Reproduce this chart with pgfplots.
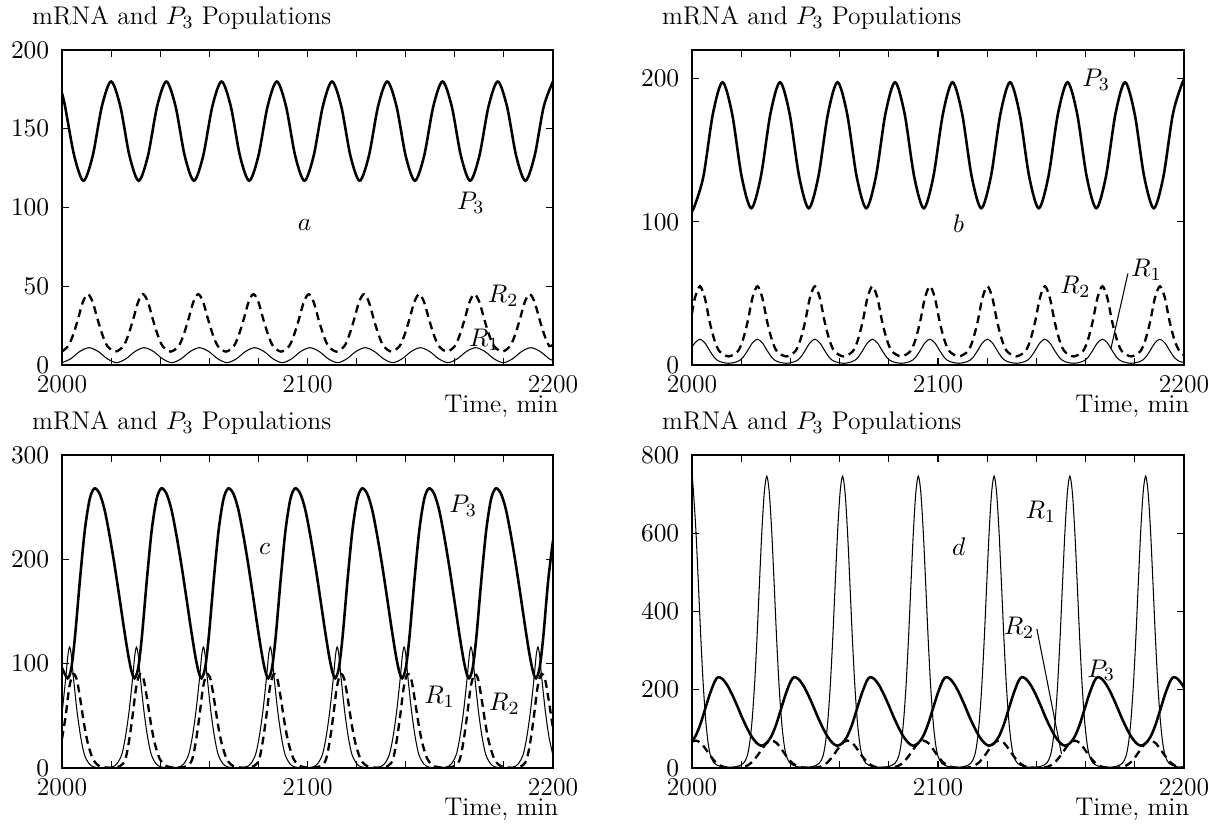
\documentclass[border=0pt]{standalone}
\usepackage{pgfplots}
\pgfplotsset{compat=1.18}
\begin{document}
\begin{tikzpicture}
\pgfplotsset{
  panel/.style={
    scale only axis, anchor=south west,
    font=\fontsize{11}{13}\selectfont,
    xmin=2000, xmax=2200,
    xtick={2000,2020,...,2200},
    xticklabels={2000,,,,,2100,,,,,2200},
    xtick pos=both, ytick pos=both,
    xticklabel pos=lower, yticklabel pos=left,
    tick align=inside, major tick length=3pt,
    every tick/.style={black, line width=0.5pt},
    axis line style={black, line width=0.5pt},
    xticklabel style={inner sep=0.5pt, yshift=-4pt},
    yticklabel style={inner sep=0.5pt, xshift=-4.8pt},
    title={mRNA and $P_3$ Populations},
    title style={at={(0,1)}, anchor=base west, xshift=-13pt, yshift=4.8pt, inner sep=0pt},
    xlabel={Time, min},
    xlabel style={at={(1,0)}, anchor=base east, xshift=2.5pt, yshift=-20.3pt, inner sep=0pt},
  },
  pthree/.style={black, line width=1.1pt, smooth},
  rone/.style={black, line width=0.45pt, smooth},
  rtwo/.style={black, line width=1pt, smooth, dash pattern=on 3.4pt off 2.2pt},
}
\tikzset{lbl/.style={font=\fontsize{11}{13}\selectfont, inner sep=0pt}}

% ---------- a ----------
\begin{axis}[panel, at={(26.66pt,-156.95pt)}, width=211.13pt, height=135.45pt,
  ymin=0, ymax=200, ytick={0,50,...,200}]
\addplot[pthree] coordinates {
(2000,172.6) (2001.25,164.25) (2005,132.75) (2008.75,117) (2012.5,132.75) (2016.25,164.25)
(2020,180) (2023.75,164.25) (2027.5,132.75) (2031.25,117) (2035,132.75) (2038.75,164.25)
(2042.5,180) (2046.25,164.25) (2050,132.75) (2053.75,117) (2057.5,132.75) (2061.25,164.25)
(2065,180) (2068.75,164.25) (2072.5,132.75) (2076.25,117) (2080,132.75) (2083.75,164.25)
(2087.5,180) (2091.25,164.25) (2095,132.75) (2098.75,117) (2102.5,132.75) (2106.25,164.25)
(2110,180) (2113.75,164.25) (2117.5,132.75) (2121.25,117) (2125,132.75) (2128.75,164.25)
(2132.5,180) (2136.25,164.25) (2140,132.75) (2143.75,117) (2147.5,132.75) (2151.25,164.25)
(2155,180) (2158.75,164.25) (2162.5,132.75) (2166.25,117) (2170,132.75) (2173.75,164.25)
(2177.5,180) (2181.25,164.25) (2185,132.75) (2188.75,117) (2192.5,132.75) (2196.25,164.25)
(2200,180)
};
\addplot[rone] coordinates {
(2000,1.5) (2003.5,3.9) (2007.25,8.6) (2011,11) (2014.75,8.6) (2018.5,3.9)
(2022.25,1.5) (2026,3.9) (2029.75,8.6) (2033.5,11) (2037.25,8.6) (2041,3.9)
(2044.75,1.5) (2048.5,3.9) (2052.25,8.6) (2056,11) (2059.75,8.6) (2063.5,3.9)
(2067.25,1.5) (2071,3.9) (2074.75,8.6) (2078.5,11) (2082.25,8.6) (2086,3.9)
(2089.75,1.5) (2093.5,3.9) (2097.25,8.6) (2101,11) (2104.75,8.6) (2108.5,3.9)
(2112.25,1.5) (2116,3.9) (2119.75,8.6) (2123.5,11) (2127.25,8.6) (2131,3.9)
(2134.75,1.5) (2138.5,3.9) (2142.25,8.6) (2146,11) (2149.75,8.6) (2153.5,3.9)
(2157.25,1.5) (2161,3.9) (2164.75,8.6) (2168.5,11) (2172.25,8.6) (2176,3.9)
(2179.75,1.5) (2183.5,3.9) (2187.25,8.6) (2191,11) (2194.75,8.6) (2198.5,3.9)
(2200,3.0)
};
\addplot[rtwo] coordinates {
(2000,8.6) (2002.5,12) (2004.5,19) (2006.5,29) (2008.5,40)
(2010.5,45) (2012.5,40) (2014.5,29) (2016.5,19) (2018.5,12) (2021.75,8.5)
(2025,12) (2027,19) (2029,29) (2031,40)
(2033,45) (2035,40) (2037,29) (2039,19) (2041,12) (2044.25,8.5)
(2047.5,12) (2049.5,19) (2051.5,29) (2053.5,40)
(2055.5,45) (2057.5,40) (2059.5,29) (2061.5,19) (2063.5,12) (2066.75,8.5)
(2070,12) (2072,19) (2074,29) (2076,40)
(2078,45) (2080,40) (2082,29) (2084,19) (2086,12) (2089.25,8.5)
(2092.5,12) (2094.5,19) (2096.5,29) (2098.5,40)
(2100.5,45) (2102.5,40) (2104.5,29) (2106.5,19) (2108.5,12) (2111.75,8.5)
(2115,12) (2117,19) (2119,29) (2121,40)
(2123,45) (2125,40) (2127,29) (2129,19) (2131,12) (2134.25,8.5)
(2137.5,12) (2139.5,19) (2141.5,29) (2143.5,40)
(2145.5,45) (2147.5,40) (2149.5,29) (2151.5,19) (2153.5,12) (2156.75,8.5)
(2160,12) (2162,19) (2164,29) (2166,40)
(2168,45) (2170,40) (2172,29) (2174,19) (2176,12) (2179.25,8.5)
(2182.5,12) (2184.5,19) (2186.5,29) (2188.5,40)
(2190.5,45) (2192.5,40) (2194.5,29) (2196.5,19) (2198.5,12) (2200,13)
};
\node[lbl] at (axis cs:2166.5,103) {$P_3$};
\node[lbl] at (axis cs:2098.8,89) {$a$};
\node[lbl] at (axis cs:2179.7,44) {$R_2$};
\node[lbl] at (axis cs:2172,16) {$R_1$};
\end{axis}

% ---------- b ----------
\begin{axis}[panel, at={(297.56pt,-156.95pt)}, width=211.56pt, height=135.45pt,
  ymin=0, ymax=220, ytick={0,100,200}]
\addplot[pthree] coordinates {
(2000,110) (2000.71,109.5) (2004.61,131.5) (2008.50,175.5)
(2012.40,197.5) (2016.30,175.5) (2020.19,131.5) (2024.09,109.5) (2027.98,131.5) (2031.88,175.5)
(2035.78,197.5) (2039.67,175.5) (2043.57,131.5) (2047.46,109.5) (2051.36,131.5) (2055.26,175.5)
(2059.15,197.5) (2063.05,175.5) (2066.94,131.5) (2070.84,109.5) (2074.74,131.5) (2078.63,175.5)
(2082.53,197.5) (2086.42,175.5) (2090.32,131.5) (2094.22,109.5) (2098.11,131.5) (2102.01,175.5)
(2105.90,197.5) (2109.80,175.5) (2113.70,131.5) (2117.59,109.5) (2121.49,131.5) (2125.38,175.5)
(2129.28,197.5) (2133.18,175.5) (2137.07,131.5) (2140.97,109.5) (2144.86,131.5) (2148.76,175.5)
(2152.66,197.5) (2156.55,175.5) (2160.45,131.5) (2164.34,109.5) (2168.24,131.5) (2172.14,175.5)
(2176.03,197.5) (2179.93,175.5) (2183.82,131.5) (2187.72,109.5) (2191.62,131.5) (2195.51,175.5)
(2199.41,197.5) (2200,197)
};
\addplot[rone] coordinates {
(2000,12.5) (2001.2,15.5) (2003.2,18) (2005.2,15.5) (2007.2,10) (2009.2,5) (2011.2,2.5) (2014.89,1.2)
(2018.58,2.5) (2020.58,5) (2022.58,10) (2024.58,15.5) (2026.58,18) (2028.58,15.5) (2030.58,10) (2032.58,5) (2034.58,2.5) (2038.27,1.2)
(2041.95,2.5) (2043.95,5) (2045.95,10) (2047.95,15.5) (2049.95,18) (2051.95,15.5) (2053.95,10) (2055.95,5) (2057.95,2.5) (2061.64,1.2)
(2065.33,2.5) (2067.33,5) (2069.33,10) (2071.33,15.5) (2073.33,18) (2075.33,15.5) (2077.33,10) (2079.33,5) (2081.33,2.5) (2085.02,1.2)
(2088.70,2.5) (2090.70,5) (2092.70,10) (2094.70,15.5) (2096.70,18) (2098.70,15.5) (2100.70,10) (2102.70,5) (2104.70,2.5) (2108.39,1.2)
(2112.08,2.5) (2114.08,5) (2116.08,10) (2118.08,15.5) (2120.08,18) (2122.08,15.5) (2124.08,10) (2126.08,5) (2128.08,2.5) (2131.77,1.2)
(2135.45,2.5) (2137.45,5) (2139.45,10) (2141.45,15.5) (2143.45,18) (2145.45,15.5) (2147.45,10) (2149.45,5) (2151.45,2.5) (2155.14,1.2)
(2158.83,2.5) (2160.83,5) (2162.83,10) (2164.83,15.5) (2166.83,18) (2168.83,15.5) (2170.83,10) (2172.83,5) (2174.83,2.5) (2178.52,1.2)
(2182.20,2.5) (2184.20,5) (2186.20,10) (2188.20,15.5) (2190.20,18) (2192.20,15.5) (2194.20,10) (2196.20,5) (2198.20,2.5) (2200,1.8)
};
\addplot[rtwo] coordinates {
(2000,36) (2001.2,47) (2003.2,55) (2005.2,47) (2007.2,30) (2009.2,17) (2011.2,9.5) (2014.89,6)
(2018.58,9.5) (2020.58,17) (2022.58,30) (2024.58,47) (2026.58,55) (2028.58,47) (2030.58,30) (2032.58,17) (2034.58,9.5) (2038.27,6)
(2041.95,9.5) (2043.95,17) (2045.95,30) (2047.95,47) (2049.95,55) (2051.95,47) (2053.95,30) (2055.95,17) (2057.95,9.5) (2061.64,6)
(2065.33,9.5) (2067.33,17) (2069.33,30) (2071.33,47) (2073.33,55) (2075.33,47) (2077.33,30) (2079.33,17) (2081.33,9.5) (2085.02,6)
(2088.70,9.5) (2090.70,17) (2092.70,30) (2094.70,47) (2096.70,55) (2098.70,47) (2100.70,30) (2102.70,17) (2104.70,9.5) (2108.39,6)
(2112.08,9.5) (2114.08,17) (2116.08,30) (2118.08,47) (2120.08,55) (2122.08,47) (2124.08,30) (2126.08,17) (2128.08,9.5) (2131.77,6)
(2135.45,9.5) (2137.45,17) (2139.45,30) (2141.45,47) (2143.45,55) (2145.45,47) (2147.45,30) (2149.45,17) (2151.45,9.5) (2155.14,6)
(2158.83,9.5) (2160.83,17) (2162.83,30) (2164.83,47) (2166.83,55) (2168.83,47) (2170.83,30) (2172.83,17) (2174.83,9.5) (2178.52,6)
(2182.20,9.5) (2184.20,17) (2186.20,30) (2188.20,47) (2190.20,55) (2192.20,47) (2194.20,30) (2196.20,17) (2198.20,9.5) (2200,7)
};
\node[lbl] at (axis cs:2164.3,199) {$P_3$};
\node[lbl] at (axis cs:2108.4,98.5) {$b$};
\node[lbl] at (axis cs:2155.8,54.5) {$R_2$};
\node[lbl] at (axis cs:2184.7,66.7) {$R_1$};
\draw[line width=0.45pt] (axis cs:2177.2,64) -- (axis cs:2170.3,11.6);
\end{axis}

% ---------- c ----------
\begin{axis}[panel, at={(26.66pt,-330.24pt)}, width=211.13pt, height=134.59pt,
  ymin=0, ymax=300, ytick={0,100,200,300}]
\addplot[pthree] coordinates {
(2000,96)
(2002.3,86) (2003.8,96) (2005.3,126) (2007.3,180) (2009.3,228) (2011.3,258) (2013.2,268) (2015.3,263) (2017.3,248) (2019.3,224) (2021.3,196) (2023.3,165) (2025.3,133) (2027.0,108) (2028.3,93)
(2029.55,86) (2031.05,96) (2032.55,126) (2034.55,180) (2036.55,228) (2038.55,258) (2040.45,268) (2042.55,263) (2044.55,248) (2046.55,224) (2048.55,196) (2050.55,165) (2052.55,133) (2054.25,108) (2055.55,93)
(2056.8,86) (2058.3,96) (2059.8,126) (2061.8,180) (2063.8,228) (2065.8,258) (2067.7,268) (2069.8,263) (2071.8,248) (2073.8,224) (2075.8,196) (2077.8,165) (2079.8,133) (2081.5,108) (2082.8,93)
(2084.05,86) (2085.55,96) (2087.05,126) (2089.05,180) (2091.05,228) (2093.05,258) (2094.95,268) (2097.05,263) (2099.05,248) (2101.05,224) (2103.05,196) (2105.05,165) (2107.05,133) (2108.75,108) (2110.05,93)
(2111.3,86) (2112.8,96) (2114.3,126) (2116.3,180) (2118.3,228) (2120.3,258) (2122.2,268) (2124.3,263) (2126.3,248) (2128.3,224) (2130.3,196) (2132.3,165) (2134.3,133) (2136.0,108) (2137.3,93)
(2138.55,86) (2140.05,96) (2141.55,126) (2143.55,180) (2145.55,228) (2147.55,258) (2149.45,268) (2151.55,263) (2153.55,248) (2155.55,224) (2157.55,196) (2159.55,165) (2161.55,133) (2163.25,108) (2164.55,93)
(2165.8,86) (2167.3,96) (2168.8,126) (2170.8,180) (2172.8,228) (2174.8,258) (2176.7,268) (2178.8,263) (2180.8,248) (2182.8,224) (2184.8,196) (2186.8,165) (2188.8,133) (2190.5,108) (2191.8,93)
(2193.05,86) (2194.55,96) (2196.05,126) (2198.05,180) (2200,218)
};
\addplot[rone] coordinates {
(2000,52) (2001.6,88) (2002.4,108) (2003.1,116) (2003.8,108) (2004.6,88) (2006.1,55) (2007.6,30) (2009.1,13) (2011.1,4) (2013.1,1) (2016.7,0.4)
(2020.35,1) (2022.35,4) (2024.35,13) (2025.85,30) (2027.35,55) (2028.85,88) (2029.65,108) (2030.35,116) (2031.05,108) (2031.85,88) (2033.35,55) (2034.85,30) (2036.35,13) (2038.35,4) (2040.35,1) (2043.95,0.4)
(2047.6,1) (2049.6,4) (2051.6,13) (2053.1,30) (2054.6,55) (2056.1,88) (2056.9,108) (2057.6,116) (2058.3,108) (2059.1,88) (2060.6,55) (2062.1,30) (2063.6,13) (2065.6,4) (2067.6,1) (2071.2,0.4)
(2074.85,1) (2076.85,4) (2078.85,13) (2080.35,30) (2081.85,55) (2083.35,88) (2084.15,108) (2084.85,116) (2085.55,108) (2086.35,88) (2087.85,55) (2089.35,30) (2090.85,13) (2092.85,4) (2094.85,1) (2098.45,0.4)
(2102.1,1) (2104.1,4) (2106.1,13) (2107.6,30) (2109.1,55) (2110.6,88) (2111.4,108) (2112.1,116) (2112.8,108) (2113.6,88) (2115.1,55) (2116.6,30) (2118.1,13) (2120.1,4) (2122.1,1) (2125.7,0.4)
(2129.35,1) (2131.35,4) (2133.35,13) (2134.85,30) (2136.35,55) (2137.85,88) (2138.65,108) (2139.35,116) (2140.05,108) (2140.85,88) (2142.35,55) (2143.85,30) (2145.35,13) (2147.35,4) (2149.35,1) (2152.95,0.4)
(2156.6,1) (2158.6,4) (2160.6,13) (2162.1,30) (2163.6,55) (2165.1,88) (2165.9,108) (2166.6,116) (2167.3,108) (2168.1,88) (2169.6,55) (2171.1,30) (2172.6,13) (2174.6,4) (2176.6,1) (2180.2,0.4)
(2183.85,1) (2185.85,4) (2187.85,13) (2189.35,30) (2190.85,55) (2192.35,88) (2193.15,108) (2193.85,116) (2194.55,108) (2195.35,88) (2196.85,55) (2198.35,30) (2200,12)
};
\addplot[rtwo] coordinates {
(2000,28) (2001.5,50) (2003,78) (2004.5,90) (2006,85) (2007.5,65) (2009,42) (2010.5,24) (2012.5,9) (2014.5,3) (2016.5,1) (2020.1,0.3)
(2023.75,2) (2025.75,8) (2027.25,25) (2028.75,50) (2030.25,78) (2031.75,90) (2033.25,85) (2034.75,65) (2036.25,42) (2037.75,24) (2039.75,9) (2041.75,3) (2043.75,1) (2047.35,0.3)
(2051.0,2) (2053.0,8) (2054.5,25) (2056.0,50) (2057.5,78) (2059.0,90) (2060.5,85) (2062.0,65) (2063.5,42) (2065.0,24) (2067.0,9) (2069.0,3) (2071.0,1) (2074.6,0.3)
(2078.25,2) (2080.25,8) (2081.75,25) (2083.25,50) (2084.75,78) (2086.25,90) (2087.75,85) (2089.25,65) (2090.75,42) (2092.25,24) (2094.25,9) (2096.25,3) (2098.25,1) (2101.85,0.3)
(2105.5,2) (2107.5,8) (2109.0,25) (2110.5,50) (2112.0,78) (2113.5,90) (2115.0,85) (2116.5,65) (2118.0,42) (2119.5,24) (2121.5,9) (2123.5,3) (2125.5,1) (2129.1,0.3)
(2132.75,2) (2134.75,8) (2136.25,25) (2137.75,50) (2139.25,78) (2140.75,90) (2142.25,85) (2143.75,65) (2145.25,42) (2146.75,24) (2148.75,9) (2150.75,3) (2152.75,1) (2156.35,0.3)
(2160.0,2) (2162.0,8) (2163.5,25) (2165.0,50) (2166.5,78) (2168.0,90) (2169.5,85) (2171.0,65) (2172.5,42) (2174.0,24) (2176.0,9) (2178.0,3) (2180.0,1) (2183.6,0.3)
(2187.25,2) (2189.25,8) (2190.75,25) (2192.25,50) (2193.75,78) (2195.25,90) (2196.75,85) (2198.25,65) (2200,38)
};
\node[lbl] at (axis cs:2082.5,210) {$c$};
\node[lbl] at (axis cs:2163.4,251.7) {$P_3$};
\node[lbl] at (axis cs:2153.8,67.9) {$R_1$};
\node[lbl] at (axis cs:2180.2,61.6) {$R_2$};
\end{axis}

% ---------- d ----------
\begin{axis}[panel, at={(297.56pt,-330.24pt)}, width=211.56pt, height=134.59pt,
  ymin=0, ymax=800, ytick={0,200,...,800}]
\addplot[pthree] coordinates {
(2000,70) (2001.3,80) (2003.3,110) (2005.3,150) (2007.3,190) (2009.3,222) (2010.6,232) (2012.3,228) (2014.3,212) (2016.3,188) (2018.3,160) (2020.3,130) (2022.3,103) (2024.3,80) (2026.3,64)
(2028.15,57) (2030.15,63) (2032.15,80) (2034.15,110) (2036.15,150) (2038.15,190) (2040.15,222) (2041.45,232) (2043.15,228) (2045.15,212) (2047.15,188) (2049.15,160) (2051.15,130) (2053.15,103) (2055.15,80) (2057.15,64)
(2059.0,57) (2061.0,63) (2063.0,80) (2065.0,110) (2067.0,150) (2069.0,190) (2071.0,222) (2072.3,232) (2074.0,228) (2076.0,212) (2078.0,188) (2080.0,160) (2082.0,130) (2084.0,103) (2086.0,80) (2088.0,64)
(2089.85,57) (2091.85,63) (2093.85,80) (2095.85,110) (2097.85,150) (2099.85,190) (2101.85,222) (2103.15,232) (2104.85,228) (2106.85,212) (2108.85,188) (2110.85,160) (2112.85,130) (2114.85,103) (2116.85,80) (2118.85,64)
(2120.7,57) (2122.7,63) (2124.7,80) (2126.7,110) (2128.7,150) (2130.7,190) (2132.7,222) (2134.0,232) (2135.7,228) (2137.7,212) (2139.7,188) (2141.7,160) (2143.7,130) (2145.7,103) (2147.7,80) (2149.7,64)
(2151.55,57) (2153.55,63) (2155.55,80) (2157.55,110) (2159.55,150) (2161.55,190) (2163.55,222) (2164.85,232) (2166.55,228) (2168.55,212) (2170.55,188) (2172.55,160) (2174.55,130) (2176.55,103) (2178.55,80) (2180.55,64)
(2182.4,57) (2184.4,63) (2186.4,80) (2188.4,110) (2190.4,150) (2192.4,190) (2194.4,222) (2195.7,232) (2197.4,228) (2199.4,212) (2200,206)
};
\addplot[rone] coordinates {
(2000,755) (2000.6,705) (2001.6,605) (2002.6,470) (2003.6,330) (2004.6,210) (2005.6,120) (2006.6,62) (2007.6,30) (2009.1,12) (2011.6,4) (2015.0,2)
(2018.4,4) (2020.9,12) (2022.4,30) (2023.4,62) (2024.4,120) (2025.4,210) (2026.4,330) (2027.4,470) (2028.4,605) (2029.4,705) (2030.4,746) (2031.4,705) (2032.4,605) (2033.4,470) (2034.4,330) (2035.4,210) (2036.4,120) (2037.4,62) (2038.4,30) (2039.9,12) (2042.4,4) (2045.8,2)
(2049.2,4) (2051.7,12) (2053.2,30) (2054.2,62) (2055.2,120) (2056.2,210) (2057.2,330) (2058.2,470) (2059.2,605) (2060.2,705) (2061.2,746) (2062.2,705) (2063.2,605) (2064.2,470) (2065.2,330) (2066.2,210) (2067.2,120) (2068.2,62) (2069.2,30) (2070.7,12) (2073.2,4) (2076.6,2)
(2080.0,4) (2082.5,12) (2084.0,30) (2085.0,62) (2086.0,120) (2087.0,210) (2088.0,330) (2089.0,470) (2090.0,605) (2091.0,705) (2092.0,746) (2093.0,705) (2094.0,605) (2095.0,470) (2096.0,330) (2097.0,210) (2098.0,120) (2099.0,62) (2100.0,30) (2101.5,12) (2104.0,4) (2107.4,2)
(2110.8,4) (2113.3,12) (2114.8,30) (2115.8,62) (2116.8,120) (2117.8,210) (2118.8,330) (2119.8,470) (2120.8,605) (2121.8,705) (2122.8,746) (2123.8,705) (2124.8,605) (2125.8,470) (2126.8,330) (2127.8,210) (2128.8,120) (2129.8,62) (2130.8,30) (2132.3,12) (2134.8,4) (2138.2,2)
(2141.6,4) (2144.1,12) (2145.6,30) (2146.6,62) (2147.6,120) (2148.6,210) (2149.6,330) (2150.6,470) (2151.6,605) (2152.6,705) (2153.6,746) (2154.6,705) (2155.6,605) (2156.6,470) (2157.6,330) (2158.6,210) (2159.6,120) (2160.6,62) (2161.6,30) (2163.1,12) (2165.6,4) (2169.0,2)
(2172.4,4) (2174.9,12) (2176.4,30) (2177.4,62) (2178.4,120) (2179.4,210) (2180.4,330) (2181.4,470) (2182.4,605) (2183.4,705) (2184.4,746) (2185.4,705) (2186.4,605) (2187.4,470) (2188.4,330) (2189.4,210) (2190.4,120) (2191.4,62) (2192.4,30) (2193.9,12) (2196.4,4) (2200,2)
};
\addplot[rtwo] coordinates {
(2000,67) (2001.6,70) (2003.6,64) (2005.6,48) (2007.6,30) (2009.6,15) (2011.6,6) (2013.6,2) (2017.0,0.5)
(2020.4,2) (2022.4,6) (2024.4,15) (2026.4,30) (2028.4,48) (2030.4,64) (2032.4,70) (2034.4,64) (2036.4,48) (2038.4,30) (2040.4,15) (2042.4,6) (2044.4,2) (2047.8,0.5)
(2051.2,2) (2053.2,6) (2055.2,15) (2057.2,30) (2059.2,48) (2061.2,64) (2063.2,70) (2065.2,64) (2067.2,48) (2069.2,30) (2071.2,15) (2073.2,6) (2075.2,2) (2078.6,0.5)
(2082.0,2) (2084.0,6) (2086.0,15) (2088.0,30) (2090.0,48) (2092.0,64) (2094.0,70) (2096.0,64) (2098.0,48) (2100.0,30) (2102.0,15) (2104.0,6) (2106.0,2) (2109.4,0.5)
(2112.8,2) (2114.8,6) (2116.8,15) (2118.8,30) (2120.8,48) (2122.8,64) (2124.8,70) (2126.8,64) (2128.8,48) (2130.8,30) (2132.8,15) (2134.8,6) (2136.8,2) (2140.2,0.5)
(2143.6,2) (2145.6,6) (2147.6,15) (2149.6,30) (2151.6,48) (2153.6,64) (2155.6,70) (2157.6,64) (2159.6,48) (2161.6,30) (2163.6,15) (2165.6,6) (2167.6,2) (2171.0,0.5)
(2174.4,2) (2176.4,6) (2178.4,15) (2180.4,30) (2182.4,48) (2184.4,64) (2186.4,70) (2188.4,64) (2190.4,48) (2192.4,30) (2194.4,15) (2196.4,6) (2198.4,2) (2200,1)
};
\node[lbl] at (axis cs:2141.8,655) {$R_1$};
\node[lbl] at (axis cs:2108.4,565) {$d$};
\node[lbl] at (axis cs:2132.9,359) {$R_2$};
\node[lbl] at (axis cs:2166.3,250) {$P_3$};
\draw[line width=0.45pt] (axis cs:2140.2,355) -- (axis cs:2150.2,36);
\end{axis}

\pgfresetboundingbox
\path (0pt,0pt) rectangle (524.17pt,-353.89pt);
\end{tikzpicture}
\end{document}
